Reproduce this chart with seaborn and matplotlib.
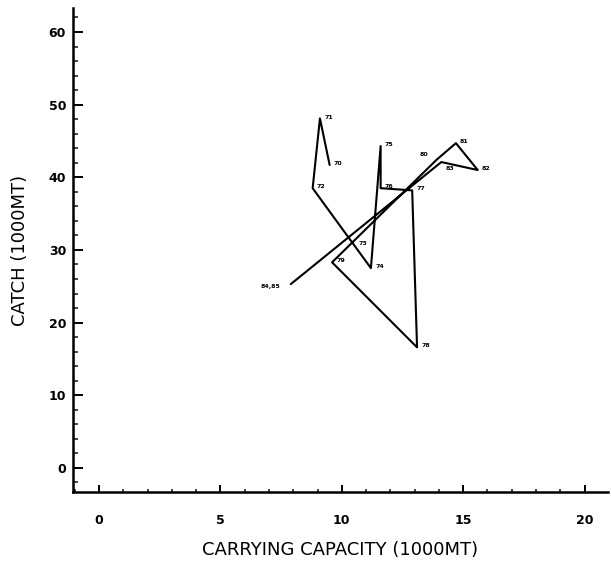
import numpy as np
import pandas as pd
import matplotlib
matplotlib.use("Agg")
import matplotlib.pyplot as plt
from matplotlib.ticker import MultipleLocator
import seaborn as sns

# year-to-year path: carrying capacity vs catch (both in 1000 MT)
years = ["70", "71", "72", "73", "74", "75", "76", "77", "78", "79",
         "80", "81", "82", "83", "84,85"]
capacity = [9.5, 9.1, 8.8, 10.5, 11.2, 11.6, 11.6, 12.9, 13.1, 9.6,
            13.9, 14.7, 15.6, 14.1, 7.9]
catch = [41.7, 48.1, 38.5, 30.7, 27.5, 44.3, 38.5, 38.2, 16.6, 28.3,
         42.4, 44.7, 41.0, 42.1, 25.3]

df = pd.DataFrame({"capacity": capacity, "catch": catch, "year": years})

# label offsets (points) so year tags don't collide
offsets = [(3, 1)] * len(df)
offsets[10] = (-12, 4)
offsets[13] = (3, -5)
offsets[14] = (-22, -2)

sns.set_style("ticks")
plt.rcParams["font.family"] = ["DejaVu Sans"]

fig = plt.figure(figsize=(6.11, 5.72), dpi=100)
ax = fig.add_axes([0.1195, 0.14, 0.875, 0.846])

sns.lineplot(data=df, x="capacity", y="catch", sort=False, estimator=None,
             color="black", linewidth=1.5, ax=ax)

for i, row in df.iterrows():
    ax.annotate(row["year"], (row["capacity"], row["catch"]),
                xytext=offsets[i], textcoords="offset points",
                fontsize=4.5, fontweight="bold", va="center", color="black")

ax.set_xlim(-1.07, 20.95)
ax.set_ylim(-3.3, 63.3)
ax.xaxis.set_major_locator(MultipleLocator(5))
ax.xaxis.set_minor_locator(MultipleLocator(1))
ax.yaxis.set_major_locator(MultipleLocator(10))
ax.yaxis.set_minor_locator(MultipleLocator(2))

sns.despine(ax=ax)
for s in ["left", "bottom"]:
    ax.spines[s].set_linewidth(1.8)
    ax.spines[s].set_color("black")

ax.tick_params(axis="x", which="major", direction="in", length=5, width=1.4,
               pad=16, labelsize=9, colors="black")
ax.tick_params(axis="x", which="minor", direction="in", length=2.5, width=1.2)
ax.tick_params(axis="y", which="major", direction="in", length=7, width=1.4,
               pad=5, labelsize=9, colors="black")
ax.tick_params(axis="y", which="minor", direction="in", length=3.5, width=1.2)
for lab in ax.get_xticklabels() + ax.get_yticklabels():
    lab.set_fontweight("bold")

ax.set_xlabel("CARRYING CAPACITY (1000MT)", fontsize=13, labelpad=10,
              color="black")
ax.set_ylabel("CATCH (1000MT)", fontsize=13, labelpad=14, color="black")

fig.savefig("out.png", dpi=100)
